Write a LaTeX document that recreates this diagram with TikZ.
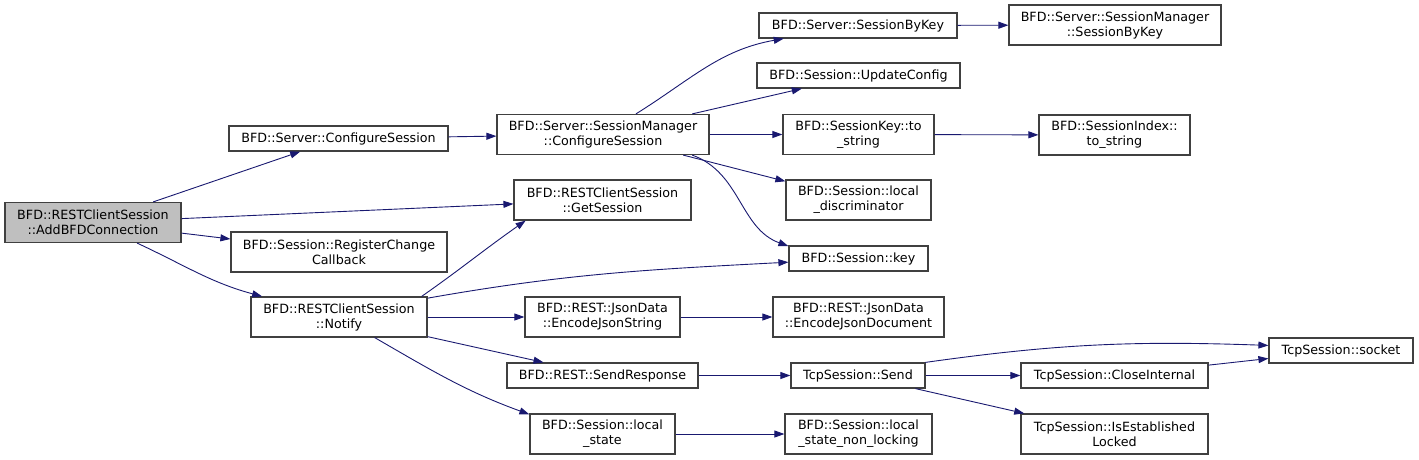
\documentclass[tikz,border=0pt]{standalone}
\usepackage{fontspec}
\setmainfont{DejaVu Sans}
\usetikzlibrary{arrows.meta}
\definecolor{edgeblue}{HTML}{191970}

\begin{document}
\begin{tikzpicture}[x=1pt,y=-1pt,font=\fontsize{12.7}{15}\selectfont,
    fn/.style={draw=black!75,line width=1.2pt,align=center,inner sep=0pt,minimum height=25pt},
    fn2/.style={fn,minimum height=40pt},
    call/.style={draw=edgeblue,line width=0.9pt,-{Triangle[length=10pt,width=7pt]}}]
    \useasboundingbox (0,0) rectangle (1419,460);
    % caller
    \node[fn2,fill=black!25,minimum width=176pt] (add) at (93,222.5) {BFD::RESTClientSession\\::AddBFDConnection};
    % first level
    \node[fn,minimum width=219pt] (srvcfg) at (338.5,138.5) {BFD::Server::ConfigureSession};
    \node[fn2,minimum width=216pt] (regchg) at (339,252) {BFD::Session::RegisterChange\\Callback};
    \node[fn2,minimum width=176pt] (notify) at (339,317) {BFD::RESTClientSession\\::Notify};
    % second level
    \node[fn2,minimum width=212pt] (smcfg) at (603,134.5) {BFD::Server::SessionManager\\::ConfigureSession};
    \node[fn2,minimum width=177pt] (getsess) at (602.5,200) {BFD::RESTClientSession\\::GetSession};
    \node[fn2,minimum width=155pt] (encstr) at (602.5,317) {BFD::REST::JsonData\\::EncodeJsonString};
    \node[fn,minimum width=191pt] (sendresp) at (602.5,375.5) {BFD::REST::SendResponse};
    \node[fn2,minimum width=145pt] (lstate) at (602.5,434) {BFD::Session::local\\\_state};
    % third level
    \node[fn,minimum width=198pt] (srvkey) at (858,25.5) {BFD::Server::SessionByKey};
    \node[fn,minimum width=203pt] (updcfg) at (858.5,75.5) {BFD::Session::UpdateConfig};
    \node[fn2,minimum width=151pt] (keystr) at (858.5,134.5) {BFD::SessionKey::to\\\_string};
    \node[fn2,minimum width=145pt] (ldisc) at (858.5,200) {BFD::Session::local\\\_discriminator};
    \node[fn,minimum width=139pt] (skey) at (858.5,258.5) {BFD::Session::key};
    \node[fn2,minimum width=171pt] (encdoc) at (858.5,317) {BFD::REST::JsonData\\::EncodeJsonDocument};
    \node[fn,minimum width=134pt] (tcpsend) at (858,375.5) {TcpSession::Send};
    \node[fn2,minimum width=147pt] (lstnl) at (858.5,434) {BFD::Session::local\\\_state\_non\_locking};
    % fourth level
    \node[fn2,minimum width=212pt] (smkey) at (1115,25) {BFD::Server::SessionManager\\::SessionByKey};
    \node[fn2,minimum width=151pt] (idxstr) at (1114.5,135) {BFD::SessionIndex::\\to\_string};
    \node[fn,minimum width=187pt] (closeint) at (1114.5,375.5) {TcpSession::CloseInternal};
    \node[fn2,minimum width=187pt] (isest) at (1114.5,434) {TcpSession::IsEstablished\\Locked};
    \node[fn,minimum width=144pt] (socket) at (1341,350.5) {TcpSession::socket};
    % calls
    \draw[call] (add) -- (srvcfg);
    \draw[call] (add) -- (getsess);
    \draw[call] (add) -- (regchg);
    \draw[call] (add) to[out=-25,in=165] (notify);
    \draw[call] (srvcfg) -- (smcfg);
    \draw[call] (notify.14) to[out=35,in=-145] (getsess.195);
    \draw[call] (notify.12) to[out=10,in=183] (skey.183);
    \draw[call] (notify) -- (encstr);
    \draw[call] (notify) -- (sendresp);
    \draw[call] (notify.-30) to[out=-30,in=160] (lstate.165);
    \draw[call] (smcfg) to[out=32,in=-170] (srvkey);
    \draw[call] (smcfg) -- (updcfg);
    \draw[call] (smcfg) -- (keystr);
    \draw[call] (smcfg) -- (ldisc);
    \draw[call] (smcfg.-13) to[out=-20,in=160] (skey.170);
    \draw[call] (srvkey) -- (smkey);
    \draw[call] (keystr) -- (idxstr);
    \draw[call] (encstr) -- (encdoc);
    \draw[call] (sendresp) -- (tcpsend);
    \draw[call] (lstate) -- (lstnl);
    \draw[call] (tcpsend.11) to[out=8,in=178] (socket.176);
    \draw[call] (tcpsend) -- (closeint);
    \draw[call] (tcpsend) -- (isest);
    \draw[call] (closeint) -- (socket);
\end{tikzpicture}
\end{document}
